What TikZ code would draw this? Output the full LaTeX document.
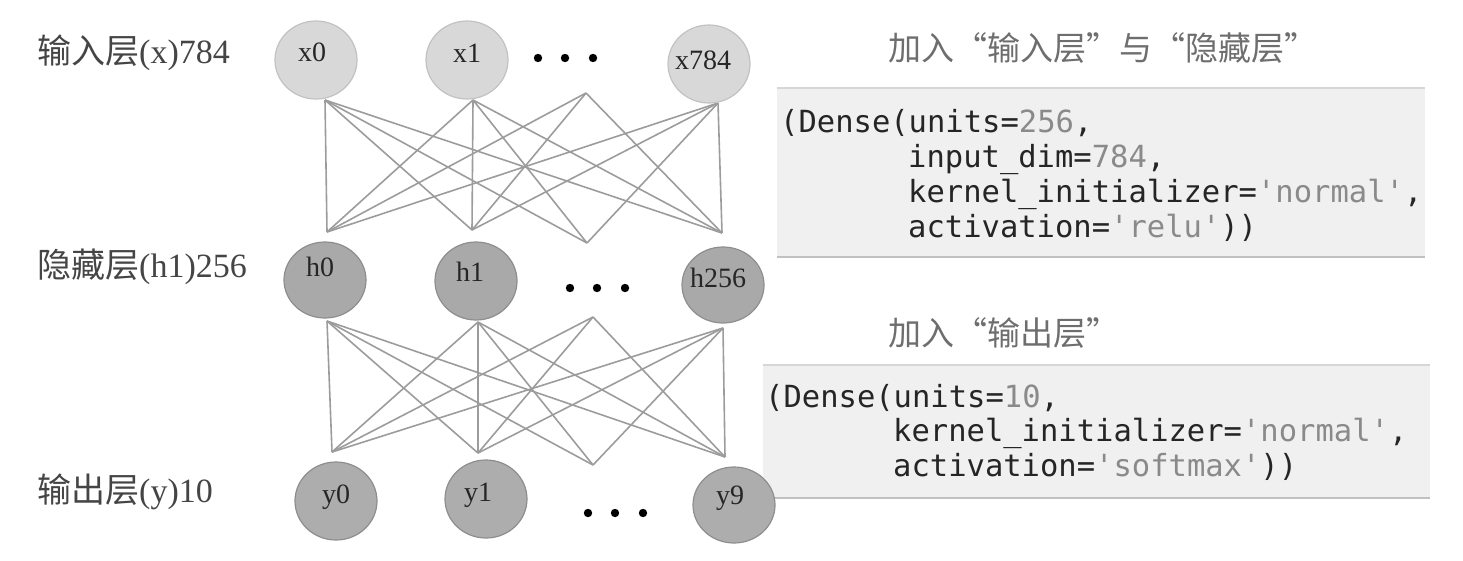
\documentclass[tikz,border=0pt]{standalone}
\usepackage{fontspec}
\setmainfont{Liberation Serif}
\setmonofont{DejaVu Sans Mono}
\newfontfamily\cjk{Noto Sans CJK SC}
\usetikzlibrary{shapes.geometric}
\definecolor{xfill}{HTML}{D8D8D8}
\definecolor{xdraw}{HTML}{C2C2C2}
\definecolor{hfill}{HTML}{A9A9A9}
\definecolor{hdraw}{HTML}{8E8E8E}
\definecolor{yfill}{HTML}{ADADAD}
\definecolor{edgecol}{HTML}{9C9C9C}
\definecolor{codebg}{HTML}{F0F0F0}
\definecolor{codeedge}{HTML}{D6D6D6}
\definecolor{codetext}{HTML}{252525}
\definecolor{codehl}{HTML}{8A8A8A}
\definecolor{labtext}{HTML}{454545}
\definecolor{titletext}{HTML}{6E6E6E}
\newcommand{\hl}[1]{\textcolor{codehl}{#1}}
\newcommand{\cnlq}{\makebox[33pt][r]{“}}
\newcommand{\cnrq}{\makebox[33pt][l]{”}}
\tikzset{
  neuron/.style={ellipse, minimum width=82pt, minimum height=78pt, inner sep=0pt, line width=1.2pt},
  xneuron/.style={neuron, fill=xfill, draw=xdraw},
  hneuron/.style={neuron, fill=hfill, draw=hdraw},
  yneuron/.style={neuron, fill=yfill, draw=hdraw},
  ntext/.style={font=\fontsize{28}{30}\selectfont, text=black!85, inner sep=0pt},
  conn/.style={draw=edgecol, line width=1.6pt},
  layerlabel/.style={font=\fontsize{34}{38}\selectfont, text=labtext, anchor=west, inner sep=0pt},
  titlelabel/.style={font=\cjk\fontsize{33}{36}\selectfont, text=titletext, anchor=west, inner sep=0pt},
  codeline/.style={font=\ttfamily\fontsize{30.5}{35}\selectfont, text=codetext, anchor=base west, inner sep=0pt},
  dotmark/.style={fill=black}
}
\begin{document}
\begin{tikzpicture}[x=1pt,y=-1pt]
\useasboundingbox (0,0) rectangle (1463,560);

% code boxes
\fill[codebg] (777,88) rectangle (1425,257);
\draw[codeedge, line width=1.5pt] (777,88) -- (1425,88);
\draw[codeedge!90!black, line width=1.5pt] (777,257) -- (1425,257);
\fill[codebg] (763,365) rectangle (1430,498);
\draw[codeedge, line width=1.5pt] (763,365) -- (1430,365);
\draw[codeedge!90!black, line width=1.5pt] (763,498) -- (1430,498);

% connection points
\coordinate (t1) at (325,100);
\coordinate (t2) at (473,100);
\coordinate (t3) at (586,93);
\coordinate (t4) at (718,103);
\coordinate (b1) at (327,232);
\coordinate (b2) at (472,230);
\coordinate (b3) at (587,243);
\coordinate (b4) at (722,233);
\coordinate (u1) at (327,321);
\coordinate (u2) at (478,322);
\coordinate (u3) at (593,317);
\coordinate (u4) at (723,328);
\coordinate (v1) at (332,452);
\coordinate (v2) at (478,453);
\coordinate (v3) at (593,465);
\coordinate (v4) at (725,457);

% connectors
\foreach \i/\j in {1/1,1/2,1/3,1/4,2/1,2/2,2/3,2/4,3/1,3/2,3/4,4/1,4/2,4/3,4/4}{
  \draw[conn] (t\i) -- (b\j);
  \draw[conn] (u\i) -- (v\j);
}

% neurons
\node[xneuron, label={[ntext, xshift=-4pt, yshift=8pt]center:x0}] (x0) at (316,60) {};
\node[xneuron, label={[ntext, yshift=7pt]center:x1}] (x1) at (467,60) {};
\node[xneuron, label={[ntext, xshift=-6pt, yshift=4pt]center:x784}] (x784) at (709,64) {};
\node[hneuron, minimum height=76pt, label={[ntext, xshift=-5pt, yshift=13pt]center:h0}] (h0) at (325,280) {};
\node[hneuron, label={[ntext, xshift=-6pt, yshift=9pt]center:h1}] (h1) at (476,281) {};
\node[hneuron, minimum height=76pt, label={[ntext, xshift=-5pt, yshift=7pt]center:h256}] (h256) at (723,285) {};
\node[yneuron, label={[ntext, yshift=4pt]center:y0}] (y0) at (336,501) {};
\node[yneuron, label={[ntext, xshift=-8pt, yshift=4pt]center:y1}] (y1) at (486,499) {};
\node[yneuron, minimum height=76pt, label={[ntext, xshift=-4pt, yshift=7pt]center:y9}] (y9) at (734,505) {};

% ellipsis dots
\foreach \x in {538,565,593}{\fill[dotmark] (\x,58) circle (4.2);}
\foreach \x in {570,597,625}{\fill[dotmark] (\x,288) circle (4.2);}
\foreach \x in {588,615,643}{\fill[dotmark] (\x,513) circle (4.2);}

% layer labels
\node[layerlabel] (lx) at (37,53) {{\cjk 输入层}(x)784};
\node[layerlabel] (lh) at (37,267) {{\cjk 隐藏层}(h1)256};
\node[layerlabel] (ly) at (37,492) {{\cjk 输出层}(y)10};

% titles
\node[titlelabel] (t1lab) at (888,48) {加入\cnlq 输入层\cnrq 与\cnlq 隐藏层\cnrq};
\node[titlelabel] (t2lab) at (888,333) {加入\cnlq 输出层\cnrq};

% code
\node[codeline] (c11) at (780,132) {(Dense(units=\hl{256},};
\node[codeline] (c12) at (908,167) {input\_dim=\hl{784},};
\node[codeline] (c13) at (908,202) {kernel\_initializer=\hl{'normal'},};
\node[codeline] (c14) at (908,237) {activation=\hl{'relu'}))};
\node[codeline] (c21) at (765,407) {(Dense(units=\hl{10},};
\node[codeline] (c22) at (893,441) {kernel\_initializer=\hl{'normal'},};
\node[codeline] (c23) at (893,476) {activation=\hl{'softmax'}))};
\end{tikzpicture}
\end{document}
